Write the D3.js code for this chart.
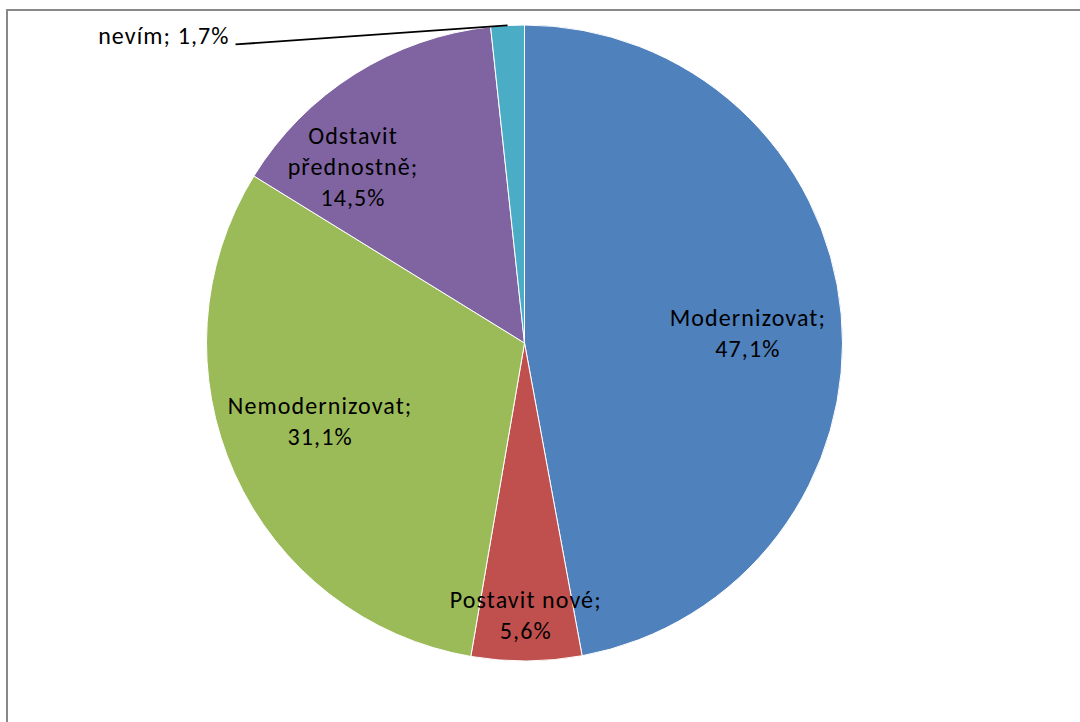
<!DOCTYPE html>
<meta charset="utf-8">
<style>
body { margin: 0; background: #fff; }
.lbl { font-family: Carlito, Calibri, Lato, sans-serif; font-size: 24px; letter-spacing: 1.1px; fill: #000; }
</style>
<script src="https://d3js.org/d3.v7.min.js"></script>
<body>
<div id="chart"></div>
</body>
<script>
// data
var categories = ["Modernizovat", "Postavit nové", "Nemodernizovat", "Odstavit přednostně", "nevím"];
var values = [47.1, 5.6, 31.1, 14.5, 1.7];
var colors = ["#4F81BD", "#C0504D", "#9BBB59", "#8064A2", "#4BACC6"];
// how each label text is broken into lines
var labelLines = [
  ["Modernizovat;", "47,1%"],
  ["Postavit nové;", "5,6%"],
  ["Nemodernizovat;", "31,1%"],
  ["Odstavit", "přednostně;", "14,5%"],
  ["nevím; 1,7%"]
];

var width = 1080, height = 722;
var cx = 524.5, cy = 343, radius = 318;

// label placement: angle shift (deg) from slice middle, radius factor
var labelPlace = [
  {shift: 2.8, k: 0.703},
  {shift: 0.1, k: 0.857},
  {shift: 3.4, k: 0.688},
  {shift: -12.1, k: 0.772},
  null
];

var svg = d3.select("#chart").append("svg")
    .attr("width", width)
    .attr("height", height);

// chart frame
svg.append("rect")
    .attr("x", 7).attr("y", 10)
    .attr("width", width + 20).attr("height", height + 20)
    .attr("fill", "none")
    .attr("stroke", "#898989")
    .attr("stroke-width", 2);

var pie = d3.pie().sort(null).value(function(d) { return d; });
var arcs = pie(values);
var arc = d3.arc().innerRadius(0).outerRadius(radius);

var g = svg.append("g")
    .attr("transform", "translate(" + cx + "," + cy + ")");

g.selectAll("path.slice")
    .data(arcs)
  .enter().append("path")
    .attr("class", "slice")
    .attr("d", arc)
    .attr("fill", function(d, i) { return colors[i]; })
    .attr("stroke", "#fff")
    .attr("stroke-width", 1);

var lineH = 31;

arcs.forEach(function(d, i) {
  var mid = (d.startAngle + d.endAngle) / 2;
  var p = labelPlace[i];
  if (p) {
    var a = mid + p.shift * Math.PI / 180;
    var r = radius * p.k;
    var x = r * Math.sin(a), y = -r * Math.cos(a);
    var lines = labelLines[i];
    var t = g.append("text").attr("class", "lbl").attr("text-anchor", "middle");
    lines.forEach(function(s, j) {
      t.append("tspan")
        .attr("x", x)
        .attr("y", y + (j - (lines.length - 1) / 2) * lineH + 8)
        .text(s);
    });
  } else {
    // outside label with leader line
    var ex = radius * Math.sin(mid), ey = -radius * Math.cos(mid);
    var lx = ex - 272, ly = ey + 19;
    g.append("line")
      .attr("x1", ex).attr("y1", ey)
      .attr("x2", lx).attr("y2", ly)
      .attr("stroke", "#000").attr("stroke-width", 1.8);
    g.append("text").attr("class", "lbl")
      .attr("text-anchor", "end")
      .attr("x", lx - 6).attr("y", ly)
      .text(labelLines[i][0]);
  }
});
</script>
